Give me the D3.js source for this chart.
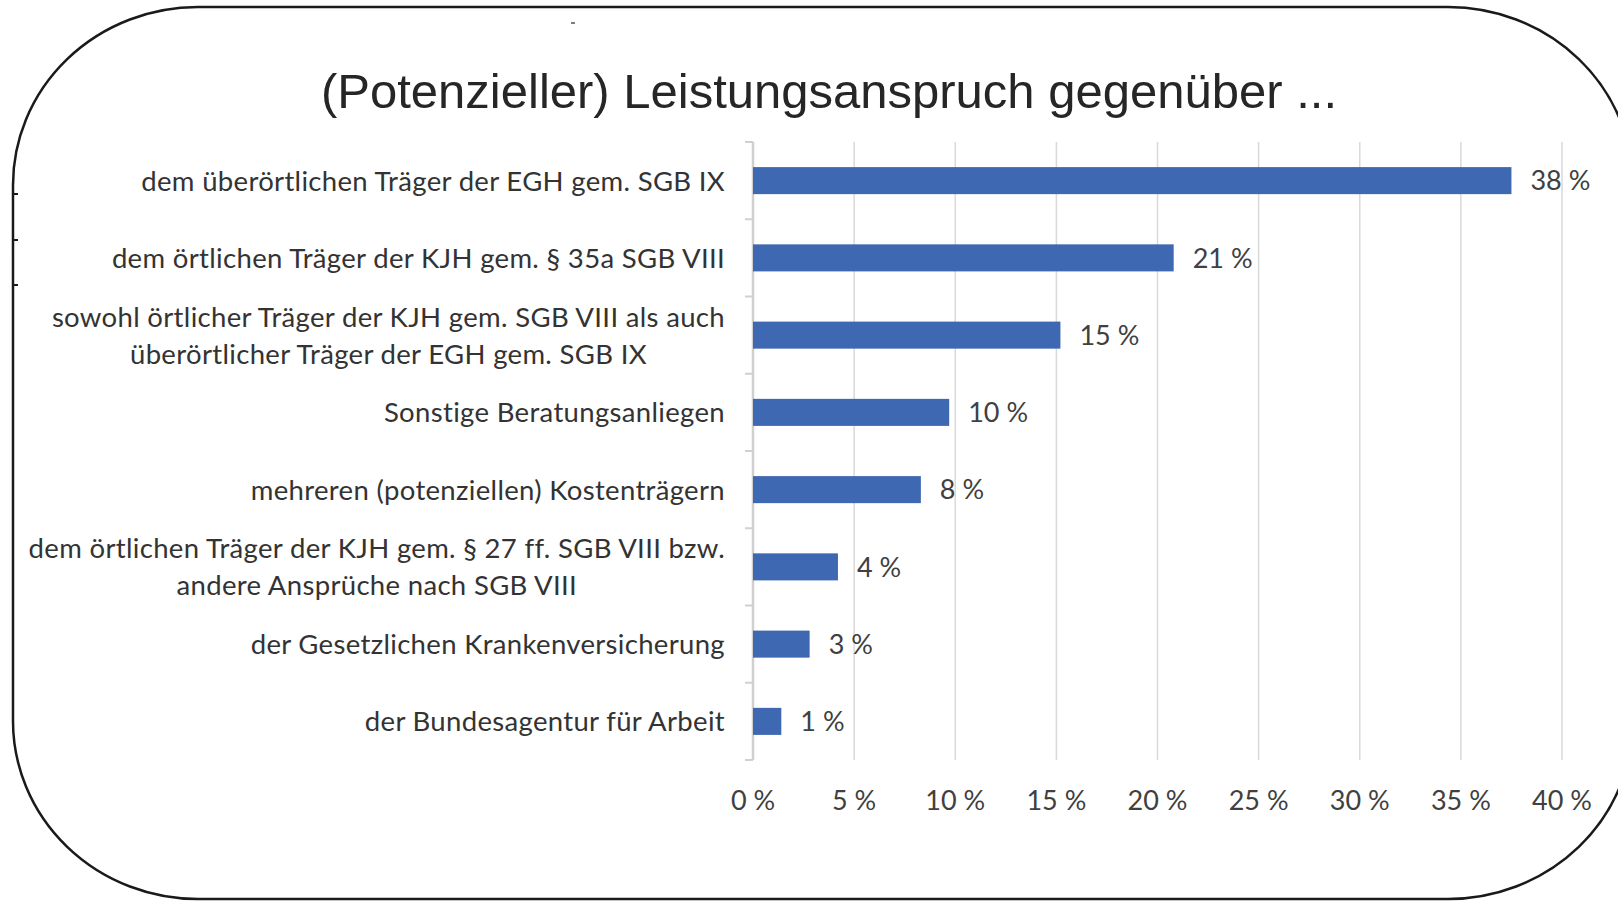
<!DOCTYPE html>
<html>
<head>
<meta charset="utf-8">
<script src="https://cdn.jsdelivr.net/npm/d3@7"></script>
<style>
  body { margin: 0; background: #fff; }
  svg { display: block; }
</style>
</head>
<body>
<div id="chart"></div>
<script>
// categories, top to bottom (\n = line break as in the original)
const categories = [
  "dem überörtlichen Träger der EGH gem. SGB IX",
  "dem örtlichen Träger der KJH gem. § 35a SGB VIII",
  "sowohl örtlicher Träger der KJH gem. SGB VIII als auch\nüberörtlicher Träger der EGH gem. SGB IX",
  "Sonstige Beratungsanliegen",
  "mehreren (potenziellen) Kostenträgern",
  "dem örtlichen Träger der KJH gem. § 27 ff. SGB VIII bzw.\nandere Ansprüche nach SGB VIII",
  "der Gesetzlichen Krankenversicherung",
  "der Bundesagentur für Arbeit"
]
// share in percent (bar lengths)
const values = [37.5, 20.8, 15.2, 9.7, 8.3, 4.2, 2.8, 1.4]
// printed labels
const valueLabels = ["38 %", "21 %", "15 %", "10 %", "8 %", "4 %", "3 %", "1 %"]
const xTicks = [0, 5, 10, 15, 20, 25, 30, 35, 40]
const title = "(Potenzieller) Leistungsanspruch gegenüber ..."

const W = 1618, H = 901
const labelFont = "Lato, 'Open Sans', sans-serif"
const barColor = "#3e68b1"
const gridColor = "#d9d9d9"

const svg = d3.select("#chart")
  .append("svg")
  .attr("width", W)
  .attr("height", H)

// rounded frame (right side runs off the picture)
svg.append("rect")
  .attr("x", 13)
  .attr("y", 7)
  .attr("width", 1620)
  .attr("height", 892)
  .attr("rx", 185)
  .attr("ry", 178)
  .attr("fill", "none")
  .attr("stroke", "#1a1a1a")
  .attr("stroke-width", 2.5)

// little marks on the frame
svg.append("g")
  .selectAll("line")
  .data([194, 240, 285])
  .join("line")
  .attr("x1", 12).attr("x2", 18)
  .attr("y1", d => d).attr("y2", d => d)
  .attr("stroke", "#1a1a1a")
  .attr("stroke-width", 2)
svg.append("line")
  .attr("x1", 571).attr("x2", 575)
  .attr("y1", 23).attr("y2", 23)
  .attr("stroke", "#555")
  .attr("stroke-width", 1.5)

// title
svg.append("text")
  .attr("x", 829)
  .attr("y", 108)
  .attr("text-anchor", "middle")
  .style("font-family", "'Liberation Sans', Arial, sans-serif")
  .style("font-size", "49px")
  .style("fill", "#262626")
  .text(title)

// scales
const x = d3.scaleLinear()
  .domain([0, 40])
  .range([753, 1562])

const y = d3.scaleBand()
  .domain(d3.range(categories.length))
  .range([142, 760])
  .paddingInner(0.65)
  .paddingOuter(0.325)

// gridlines
svg.append("g")
  .selectAll("line")
  .data(xTicks.slice(1))
  .join("line")
  .attr("x1", d => x(d)).attr("x2", d => x(d))
  .attr("y1", 142).attr("y2", 760)
  .attr("stroke", gridColor)
  .attr("stroke-width", 1.5)

// x tick labels
svg.append("g")
  .selectAll("text")
  .data(xTicks)
  .join("text")
  .attr("x", d => x(d))
  .attr("y", 810)
  .attr("text-anchor", "middle")
  .style("font-family", labelFont)
  .style("font-size", "27px")
  .style("fill", "#404040")
  .text(d => d + " %")

// category axis line + ticks between bands
const step = y.step()
const bounds = d3.range(categories.length + 1).map(i => 142 + i * step)
svg.append("line")
  .attr("x1", 753).attr("x2", 753)
  .attr("y1", 142).attr("y2", 760)
  .attr("stroke", "#d0d0d0")
  .attr("stroke-width", 2.5)
svg.append("g")
  .selectAll("line")
  .data(bounds)
  .join("line")
  .attr("x1", 745).attr("x2", 753)
  .attr("y1", d => d).attr("y2", d => d)
  .attr("stroke", "#d0d0d0")
  .attr("stroke-width", 2)

// bars
svg.append("g")
  .selectAll("rect")
  .data(values)
  .join("rect")
  .attr("x", x(0))
  .attr("y", (d, i) => y(i))
  .attr("width", d => x(d) - x(0))
  .attr("height", y.bandwidth())
  .attr("fill", barColor)

// value labels
svg.append("g")
  .selectAll("text")
  .data(values)
  .join("text")
  .attr("x", d => x(d) + 19)
  .attr("y", (d, i) => y(i) + y.bandwidth() / 2)
  .attr("dy", "0.36em")
  .style("font-family", labelFont)
  .style("font-size", "27px")
  .style("fill", "#404040")
  .text((d, i) => valueLabels[i])

// category labels: block right aligned at 725, lines centred within the block
const catG = svg.append("g")
categories.forEach((c, i) => {
  const lines = c.split("\n")
  const cy = y(i) + y.bandwidth() / 2
  const lh = 37
  const txt = lines.map((l, j) => catG.append("text")
    .attr("y", cy + (j - (lines.length - 1) / 2) * lh)
    .attr("dy", "0.36em")
    .attr("text-anchor", "middle")
    .style("font-family", labelFont)
    .style("font-size", "27.5px")
    .style("letter-spacing", "0.33px")
    .style("fill", "#333")
    .text(l))
  const maxW = d3.max(txt, t => t.node().getComputedTextLength())
  txt.forEach(t => t.attr("x", 725 - maxW / 2))
})
</script>
</body>
</html>
